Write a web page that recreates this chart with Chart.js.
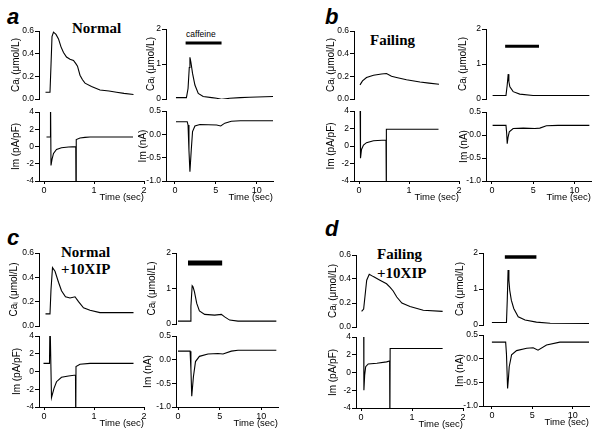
<!DOCTYPE html>
<html><head><meta charset="utf-8">
<script src="https://cdn.jsdelivr.net/npm/chart.js@4.4.1/dist/chart.umd.min.js"></script>
<style>
body{margin:0;background:#fff;width:600px;height:436px;position:relative;overflow:hidden}
canvas{position:absolute}
.lbl{position:absolute;white-space:nowrap;color:#000;line-height:1}
.let{font:italic bold 22px "Liberation Sans",Arial,sans-serif}
.ttl{font:bold 15px "Liberation Serif","Times New Roman",serif}
.caf{font:8.5px "Liberation Sans",Arial,sans-serif}
</style></head><body>
<div class="lbl let" style="left:7px;top:4px">a</div>
<div class="lbl let" style="left:325px;top:4px">b</div>
<div class="lbl let" style="left:7px;top:225px">c</div>
<div class="lbl let" style="left:325px;top:216px">d</div>
<div class="lbl ttl" style="left:72px;top:20px">Normal</div>
<div class="lbl ttl" style="left:370px;top:32px">Failing</div>
<div class="lbl ttl" style="left:61px;top:244px">Normal<br><span style="line-height:16px">+10XIP</span></div>
<div class="lbl ttl" style="left:377px;top:246px">Failing<br><span style="line-height:20px">+10XIP</span></div>
<div class="lbl caf" style="left:186px;top:29px">caffeine</div>
<script>
// tick values
const shortTicks = [0, 1, 2];
const longTicks = [0, 5, 10];
const caTicks = [0, 0.2, 0.4, 0.6];
const imTicks = [-4, -2, 0, 2, 4];
const cafCaTicks = [0, 1, 2];
const cafImTicks = [-1, -0.5, 0, 0.5];

// a - normal  [time (s), value]
const aCa = [[0.03,0.06],[0.12,0.06],[0.14,0.3],[0.16,0.55],[0.19,0.59],[0.24,0.57],[0.29,0.53],[0.34,0.46],[0.39,0.41],[0.45,0.37],[0.52,0.35],[0.59,0.34],[0.64,0.31],[0.67,0.29],[0.72,0.21],[0.77,0.17],[0.82,0.14],[0.95,0.11],[1.12,0.08],[1.3,0.07],[1.45,0.06],[1.6,0.05],[1.79,0.04]];
const aIm = [[0.05,1.1],[0.125,1.1],[0.13,6],[0.14,-2.2],[0.16,-1.5],[0.19,-0.8],[0.25,-0.35],[0.35,-0.15],[0.49,-0.06],[0.635,-0.02],[0.64,-6],[0.645,0.8],[0.72,0.99],[0.82,1.06],[0.92,1.1],[1.78,1.1]];
const aCaf = [[0.12,0.04],[1.4,0.04],[1.6,0.3],[1.75,0.9],[1.83,1.19],[1.95,1.05],[2.15,0.73],[2.44,0.4],[2.85,0.16],[3.45,0.07],[4.5,0.04],[5.1,0.02],[5.7,-0.01],[6.7,0.02],[8,0.04],[9.1,0.05],[12,0.07]];
const aCafIm = [[0.12,0.27],[1.5,0.27],[1.6,0.2],[1.71,-0.34],[1.83,-0.8],[1.9,-0.6],[1.99,-0.34],[2.15,0.06],[2.44,0.18],[3.05,0.21],[5.1,0.2],[5.6,0.18],[6.1,0.24],[6.9,0.28],[8,0.29],[12,0.29]];
const aBar = [[1.3,1.6],[5.7,1.6]];

// b - failing
const bCa = [[0.02,0.125],[0.07,0.16],[0.15,0.19],[0.29,0.21],[0.45,0.22],[0.55,0.225],[0.65,0.2],[0.75,0.19],[0.95,0.17],[1.22,0.15],[1.4,0.14],[1.6,0.13]];
const bIm = [[0.02,6],[0.03,-1.4],[0.05,-0.4],[0.09,0.11],[0.15,0.38],[0.29,0.6],[0.54,0.69],[0.545,-6],[0.55,1.92],[1.59,1.92]];
const bCaf = [[0.08,0.1],[1.7,0.1],[1.85,0.4],[1.97,0.71],[2.05,0.5],[2.17,0.35],[2.57,0.21],[3.37,0.14],[4.98,0.1],[11.8,0.1]];
const bCafIm = [[0.08,0.21],[1.7,0.21],[1.78,0.05],[1.85,-0.19],[1.95,-0.05],[2.1,0.07],[2.57,0.14],[3.8,0.15],[5.2,0.14],[5.8,0.15],[6.6,0.2],[8,0.21],[11.8,0.21]];
const bBar = [[1.6,1.51],[5.7,1.51]];

// c - normal + 10XIP
const cCa = [[0.03,0.1],[0.12,0.1],[0.14,0.3],[0.17,0.48],[0.22,0.45],[0.29,0.36],[0.35,0.29],[0.43,0.24],[0.52,0.23],[0.62,0.24],[0.69,0.2],[0.79,0.15],[0.92,0.13],[1.12,0.11],[1.79,0.11]];
const cIm = [[-0.01,0.92],[0.11,0.92],[0.12,6],[0.15,-2.95],[0.2,-1.9],[0.25,-1.15],[0.35,-0.65],[0.49,-0.5],[0.63,-0.4],[0.635,-6],[0.64,0.55],[0.72,0.82],[0.92,0.92],[1.79,0.92]];
const cCaf = [[0,0.08],[1.45,0.08],[1.55,0.5],[1.7,1.08],[1.8,1.05],[1.97,0.91],[2.25,0.58],[2.57,0.37],[3.2,0.27],[4.4,0.25],[5.2,0.27],[5.6,0.2],[6.2,0.11],[7.2,0.08],[11.8,0.08]];
const cCafIm = [[0,0.18],[1.45,0.18],[1.55,-0.2],[1.65,-0.77],[1.85,-0.36],[2.1,-0.04],[2.57,0.07],[3.6,0.12],[4.8,0.13],[5.4,0.12],[6.4,0.18],[7.2,0.2],[11.8,0.2]];
const cBar = [[1.2,1.72],[5.3,1.72]];

// d - failing + 10XIP
const dCa = [[0.01,0.13],[0.05,0.15],[0.09,0.31],[0.11,0.39],[0.16,0.44],[0.24,0.42],[0.37,0.39],[0.5,0.36],[0.57,0.33],[0.63,0.3],[0.7,0.25],[0.8,0.2],[0.96,0.17],[1.22,0.14],[1.6,0.13]];
const dIm = [[0.05,6],[0.055,-2.0],[0.07,-0.3],[0.09,0.65],[0.14,0.96],[0.31,1.05],[0.5,1.2],[0.56,1.3],[0.565,-6],[0.57,2.7],[1.6,2.7]];
const dCaf = [[0,0.07],[1.8,0.07],[1.9,0.7],[2.0,1.53],[2.1,1.25],[2.2,0.97],[2.4,0.69],[2.7,0.46],[3.25,0.23],[4.1,0.14],[5.5,0.08],[7.2,0.05],[12,0.04]];
const dCafIm = [[0,0.35],[1.7,0.35],[1.8,0.1],[1.94,-0.63],[2.05,-0.4],[2.14,-0.17],[2.43,0.08],[3.05,0.17],[4.3,0.22],[5.1,0.23],[5.7,0.18],[6.75,0.29],[8.4,0.35],[12,0.35]];
const dBar = [[1.6,1.89],[5.5,1.89]];

const FONT = '"Liberation Sans", Arial, sans-serif';
const YW = 36, PT = 8, PR = 8, XH = 22;
const CA_T = 'Ca\u1D62 (\u03BCmol/L)', IM_T = 'Im (pA/pF)', NA_T = 'Im (nA)';
const f1 = v => v.toFixed(1), f0 = v => String(v);

function plot(o) {
  const [L, R, T, B] = o.box;
  const showX = !!o.xt;
  const xt = o.xt || [];
  const c = document.createElement('canvas');
  c.width = YW + (R - L) + PR;
  c.height = PT + (B - T) + (showX ? XH : 8);
  c.style.left = (L - YW) + 'px';
  c.style.top = (T - PT) + 'px';
  document.body.appendChild(c);
  const ds = [{data: o.d.map(p => ({x: p[0], y: p[1]})), borderColor: '#000', borderWidth: 1.1}];
  if (o.bar) ds.push({data: o.bar.map(p => ({x: p[0], y: p[1]})), borderColor: '#000', borderWidth: o.bw, borderCapStyle: 'butt'});
  new Chart(c, {
    type: 'line',
    data: {datasets: ds},
    options: {
      responsive: false, animation: false,
      layout: {padding: {top: PT, right: PR, left: 0, bottom: showX ? 0 : 8}},
      plugins: {legend: {display: false}, tooltip: {enabled: false}},
      elements: {point: {radius: 0}, line: {tension: 0}},
      scales: {
        x: {
          type: 'linear', min: o.x[0], max: o.x[1], display: showX,
          afterBuildTicks: s => { s.ticks = xt.map(v => ({value: v})); },
          afterFit: s => { s.height = showX ? XH : 0; },
          grid: {drawOnChartArea: false, drawTicks: true, tickLength: 3, color: '#000'},
          border: {color: '#000', width: 1},
          ticks: {color: '#000', font: {family: FONT, size: 9}, padding: 1, maxRotation: 0, autoSkip: false},
          title: {display: true, text: 'Time (sec)', align: 'end', color: '#000', font: {family: FONT, size: 9.5}, padding: 0}
        },
        y: {
          type: 'linear', min: o.y[0], max: o.y[1],
          afterBuildTicks: s => { s.ticks = o.yt.map(v => ({value: v})); },
          afterFit: s => { s.width = YW; },
          grid: {drawOnChartArea: false, drawTicks: true, tickLength: 4, color: '#000'},
          border: {color: '#000', width: 1},
          ticks: {color: '#000', font: {family: FONT, size: 8.5}, padding: 1, autoSkip: false, callback: v => o.fmt(v)},
          title: {display: true, text: o.yl, color: '#000', font: {family: FONT, size: 10}, padding: {top: YW - o.off - 6, bottom: 0}}
        }
      }
    }
  });
}

// panel a
plot({box: [39, 144, 31, 99], x: [-0.1, 2], y: [0, 0.6], yt: caTicks, fmt: f1, yl: CA_T, off: 23, d: aCa});
plot({box: [39, 144, 112, 181], x: [-0.1, 2], y: [-4, 4], yt: imTicks, fmt: f0, yl: IM_T, off: 23, d: aIm, xt: shortTicks});
plot({box: [166, 273, 29, 99], x: [-1.1, 12], y: [0, 2], yt: cafCaTicks, fmt: f0, yl: CA_T, off: 15, d: aCaf, bar: aBar, bw: 3});
plot({box: [166, 273, 111, 181], x: [-1.1, 12], y: [-1, 0.5], yt: cafImTicks, fmt: f1, yl: NA_T, off: 23, d: aCafIm, xt: longTicks});
// panel b
plot({box: [354, 459, 31, 99], x: [-0.1, 2], y: [0, 0.6], yt: caTicks, fmt: f1, yl: CA_T, off: 23, d: bCa});
plot({box: [354, 459, 111, 181], x: [-0.1, 2], y: [-4, 4], yt: imTicks, fmt: f0, yl: IM_T, off: 23, d: bIm, xt: shortTicks});
plot({box: [486, 591, 29, 99], x: [-0.72, 12], y: [0, 2], yt: cafCaTicks, fmt: f0, yl: CA_T, off: 23, d: bCaf, bar: bBar, bw: 3});
plot({box: [486, 591, 112, 181], x: [-0.72, 12], y: [-1, 0.5], yt: cafImTicks, fmt: f1, yl: NA_T, off: 22, d: bCafIm, xt: longTicks});
// panel c
plot({box: [39, 144, 253, 326], x: [-0.1, 2], y: [0, 0.6], yt: caTicks, fmt: f1, yl: CA_T, off: 25, d: cCa});
plot({box: [39, 144, 336, 407], x: [-0.1, 2], y: [-4, 4], yt: imTicks, fmt: f0, yl: IM_T, off: 22, d: cIm, xt: shortTicks});
plot({box: [176, 278, 253, 324], x: [-0.24, 12], y: [0, 2], yt: cafCaTicks, fmt: f0, yl: CA_T, off: 24, d: cCaf, bar: cBar, bw: 5});
plot({box: [176, 278, 336, 407], x: [-0.24, 12], y: [-1, 0.5], yt: cafImTicks, fmt: f1, yl: NA_T, off: 28, d: cCafIm, xt: longTicks});
// panel d
plot({box: [356, 463, 255, 327], x: [-0.1, 2], y: [0, 0.6], yt: caTicks, fmt: f1, yl: CA_T, off: 23, d: dCa});
plot({box: [356, 463, 337, 408], x: [-0.1, 2], y: [-4, 4], yt: imTicks, fmt: f0, yl: IM_T, off: 23, d: dIm, xt: shortTicks});
plot({box: [483, 589, 253, 325], x: [-1.1, 12], y: [0, 2], yt: cafCaTicks, fmt: f0, yl: CA_T, off: 23, d: dCaf, bar: dBar, bw: 3.5});
plot({box: [483, 589, 335, 406], x: [-1.1, 12], y: [-1, 0.5], yt: cafImTicks, fmt: f1, yl: NA_T, off: 23, d: dCafIm, xt: longTicks});
</script>
</body></html>
